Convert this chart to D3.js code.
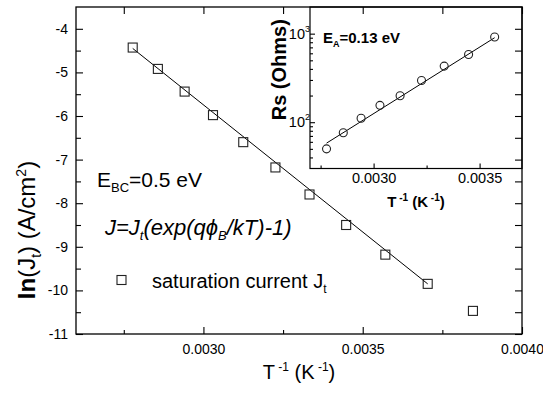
<!DOCTYPE html>
<html>
<head>
<meta charset="utf-8">
<script src="https://cdn.jsdelivr.net/npm/d3@7"></script>
<style>
  body { margin: 0; background: #fff; }
  text { font-family: Arial, "Liberation Sans", sans-serif; fill: #000; }
</style>
</head>
<body>
<svg id="chart" width="543" height="395"></svg>
<script>
// main plot data: ln(Jt) vs 1/T
const invT = [0.002778, 0.002857, 0.002941, 0.003030, 0.003125, 0.003226, 0.003333, 0.003448, 0.003571, 0.003704, 0.003846];
const lnJt = [-4.43, -4.92, -5.44, -5.98, -6.60, -7.18, -7.80, -8.50, -9.18, -9.85, -10.47];
const fitInvT = [0.002778, 0.003704];
const fitLnJt = [-4.45, -9.85];

// inset data: Rs vs 1/T
const rsInvT = [0.002778, 0.002857, 0.002941, 0.003030, 0.003125, 0.003226, 0.003333, 0.003448, 0.003571];
const rsOhms = [50, 76, 111, 155, 199, 296, 430, 581, 916];
const rsFitInvT = [0.002778, 0.003571];
const rsFitOhms = [58, 900];

// ticks
const xTicks = [0.0030, 0.0035, 0.0040];
const xMinor = [0.00275, 0.00325, 0.00375];
const yTicks = [-11, -10, -9, -8, -7, -6, -5, -4];
const yMinor = [-10.5, -9.5, -8.5, -7.5, -6.5, -5.5, -4.5];
const insetXTicks = [0.0030, 0.0035];
const insetXMinor = [0.00275, 0.00325];
const insetYTicks = [100, 1000];
const insetYMinor = [40, 50, 60, 70, 80, 90, 200, 300, 400, 500, 600, 700, 800, 900];

const svg = d3.select('#chart');
const plot = { left: 76, top: 7, right: 522, bottom: 334 };
const box = { left: 310, top: 7, right: 522, bottom: 168.5 };

const x = d3.scaleLinear().domain([0.0026, 0.0040]).range([plot.left, plot.right]);
const y = d3.scaleLinear().domain([-11, -3.5]).range([plot.bottom, plot.top]);
const ix = d3.scaleLinear().domain([0.0027, 0.0037]).range([box.left, box.right]);
const iy = d3.scaleLog().domain([30, 2000]).range([box.bottom, box.top]);

// fit line + squares
svg.append('path')
    .datum(d3.zip(fitInvT, fitLnJt))
    .attr('d', d3.line().x(d => x(d[0])).y(d => y(d[1])))
    .attr('fill', 'none').attr('stroke', '#000').attr('stroke-width', 1);

svg.append('g').selectAll('rect')
    .data(d3.zip(invT, lnJt))
    .join('rect')
    .attr('x', d => x(d[0]) - 4.5).attr('y', d => y(d[1]) - 4.5)
    .attr('width', 9).attr('height', 9)
    .attr('fill', 'none').attr('stroke', '#222').attr('stroke-width', 1.1);

// annotations
const ebc = svg.append('text').attr('x', 97).attr('y', 187).style('font-size', '21px');
ebc.append('tspan').text('E');
ebc.append('tspan').attr('dy', 5).style('font-size', '13px').text('BC');
ebc.append('tspan').attr('dy', -5).text('=0.5 eV');

const eq = svg.append('text').attr('x', 105).attr('y', 235)
    .style('font-size', '22px').style('font-style', 'italic');
eq.append('tspan').text('J=J');
eq.append('tspan').attr('dy', 5).style('font-size', '13px').text('t');
eq.append('tspan').attr('dy', -5).text('(exp(q\u03D5');
eq.append('tspan').attr('dy', 5).style('font-size', '13px').text('B');
eq.append('tspan').attr('dy', -5).text('/kT)-1)');

// legend
svg.append('rect').attr('x', 117).attr('y', 275.5).attr('width', 9).attr('height', 9)
    .attr('fill', 'none').attr('stroke', '#222').attr('stroke-width', 1.1);
const leg = svg.append('text').attr('x', 152).attr('y', 288).style('font-size', '20px');
leg.append('tspan').text('saturation current J');
leg.append('tspan').attr('dy', 5).style('font-size', '12px').text('t');

// inset
const inset = svg.append('g');
inset.append('rect')
    .attr('x', box.left).attr('y', box.top)
    .attr('width', box.right - box.left).attr('height', box.bottom - box.top)
    .attr('fill', '#fff').attr('stroke', '#000').attr('stroke-width', 1.2);

inset.append('path')
    .datum(d3.zip(rsFitInvT, rsFitOhms))
    .attr('d', d3.line().x(d => ix(d[0])).y(d => iy(d[1])))
    .attr('fill', 'none').attr('stroke', '#000').attr('stroke-width', 1);

inset.append('g').selectAll('circle')
    .data(d3.zip(rsInvT, rsOhms))
    .join('circle')
    .attr('cx', d => ix(d[0])).attr('cy', d => iy(d[1])).attr('r', 4)
    .attr('fill', 'none').attr('stroke', '#222').attr('stroke-width', 1.1);

function styleAxis(g, size) {
    g.select('.domain').remove();
    g.selectAll('line').attr('stroke', '#000').attr('stroke-width', 1.1);
    g.selectAll('text').style('font-size', size + 'px')
        .attr('font-family', null).style('font-family', 'Arial, "Liberation Sans", sans-serif');
}

inset.append('g').attr('transform', `translate(0,${box.bottom})`)
    .call(d3.axisBottom(ix).tickValues(insetXTicks).tickSizeInner(-5).tickSizeOuter(0)
        .tickPadding(4).tickFormat(d3.format('.4f')))
    .call(g => styleAxis(g, 14.5));
inset.append('g').attr('transform', `translate(0,${box.bottom})`)
    .call(d3.axisBottom(ix).tickValues(insetXMinor).tickSize(-3).tickFormat(''))
    .call(g => styleAxis(g, 10));
inset.append('g').attr('transform', `translate(${box.left},0)`)
    .call(d3.axisLeft(iy).tickValues(insetYTicks).tickSizeInner(-5).tickSizeOuter(0).tickFormat(''))
    .call(g => styleAxis(g, 10));
inset.append('g').attr('transform', `translate(${box.left},0)`)
    .call(d3.axisLeft(iy).tickValues(insetYMinor).tickSize(-3).tickFormat(''))
    .call(g => styleAxis(g, 10));

insetYTicks.forEach(v => {
    const t = inset.append('text').attr('x', box.left).attr('y', iy(v) + 5)
        .attr('text-anchor', 'end').style('font-size', '14.5px');
    t.append('tspan').text('10');
    t.append('tspan').attr('dy', -7).style('font-size', '9px').text(Math.round(Math.log10(v)));
});

const ea = inset.append('text').attr('x', 323).attr('y', 43)
    .style('font-size', '15px').style('font-weight', 'bold');
ea.append('tspan').text('E');
ea.append('tspan').attr('dy', 4).style('font-size', '9px').text('A');
ea.append('tspan').attr('dy', -4).text('=0.13 eV');

const ixt = inset.append('text').attr('x', (box.left + box.right) / 2).attr('y', 207)
    .attr('text-anchor', 'middle').style('font-size', '15px').style('font-weight', 'bold');
ixt.append('tspan').text('T');
ixt.append('tspan').attr('dy', -6).style('font-size', '10px').text(' -1');
ixt.append('tspan').attr('dy', 6).text(' (K');
ixt.append('tspan').attr('dy', -6).style('font-size', '10px').text(' -1');
ixt.append('tspan').attr('dy', 6).text(')');

inset.append('text')
    .attr('transform', `translate(286,${(box.top + box.bottom) / 2 - 18}) rotate(-90)`)
    .attr('text-anchor', 'middle')
    .style('font-size', '20px').style('font-weight', 'bold')
    .text('Rs (Ohms)');

// main frame and axes, drawn on top
svg.append('rect')
    .attr('x', plot.left).attr('y', plot.top)
    .attr('width', plot.right - plot.left).attr('height', plot.bottom - plot.top)
    .attr('fill', 'none').attr('stroke', '#000').attr('stroke-width', 1.3);

svg.append('g').attr('transform', `translate(0,${plot.bottom})`)
    .call(d3.axisBottom(x).tickValues(xTicks).tickSizeInner(-7).tickSizeOuter(0)
        .tickPadding(10).tickFormat(d3.format('.4f')))
    .call(g => styleAxis(g, 14));
svg.append('g').attr('transform', `translate(0,${plot.bottom})`)
    .call(d3.axisBottom(x).tickValues(xMinor).tickSize(-4).tickFormat(''))
    .call(g => styleAxis(g, 10));
svg.append('g').attr('transform', `translate(0,${plot.top})`)
    .call(d3.axisTop(x).tickValues(xTicks.concat(xMinor)).tickSize(-7).tickFormat(''))
    .call(g => styleAxis(g, 10));
svg.append('g').attr('transform', `translate(${plot.left},0)`)
    .call(d3.axisLeft(y).tickValues(yTicks).tickSizeInner(-7).tickSizeOuter(0)
        .tickPadding(8).tickFormat(d => String(d)))
    .call(g => styleAxis(g, 14));
svg.append('g').attr('transform', `translate(${plot.left},0)`)
    .call(d3.axisLeft(y).tickValues(yMinor).tickSize(-5).tickFormat(''))
    .call(g => styleAxis(g, 10));
svg.append('g').attr('transform', `translate(${plot.right},0)`)
    .call(d3.axisRight(y).tickValues(yTicks.concat(yMinor)).tickSize(-7).tickFormat(''))
    .call(g => styleAxis(g, 10));

// axis titles
const xt = svg.append('text').attr('x', (plot.left + plot.right) / 2).attr('y', 379)
    .attr('text-anchor', 'middle').style('font-size', '20px');
xt.append('tspan').text('T');
xt.append('tspan').attr('dy', -8).style('font-size', '12px').text(' -1');
xt.append('tspan').attr('dy', 8).text(' (K');
xt.append('tspan').attr('dy', -8).style('font-size', '12px').text(' -1');
xt.append('tspan').attr('dy', 8).text(')');

const yt = svg.append('text')
    .attr('transform', 'translate(35,230) rotate(-90)')
    .attr('text-anchor', 'middle').style('font-size', '24px');
yt.append('tspan').style('font-weight', 'bold').text('In');
yt.append('tspan').text('(J');
yt.append('tspan').attr('dy', 6).style('font-size', '14px').text('t');
yt.append('tspan').attr('dy', -6).text(') (A/cm');
yt.append('tspan').attr('dy', -9).style('font-size', '14px').text('2');
yt.append('tspan').attr('dy', 9).text(')');
</script>
</body>
</html>
